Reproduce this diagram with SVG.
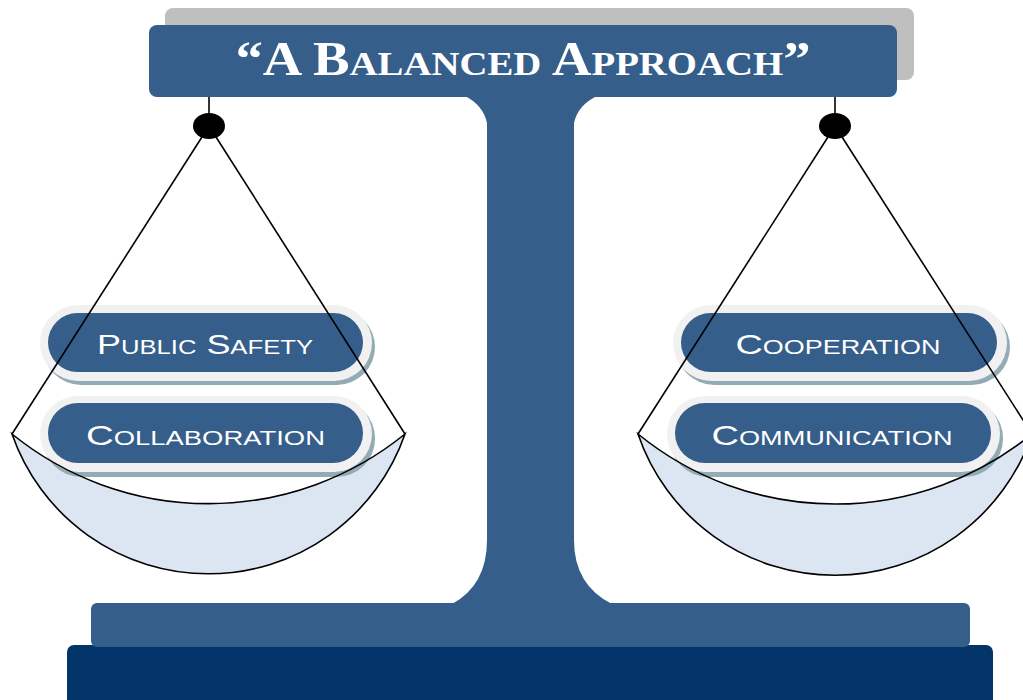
<svg xmlns="http://www.w3.org/2000/svg" width="1023" height="700" viewBox="0 0 1023 700">
  <style>
    .frame { fill: #355e8a; }
    .pan { fill: #dce6f2; stroke: none; }
    .rim { fill: none; stroke: #000; stroke-width: 1.6; }
    .cord { stroke: #000; stroke-width: 1.6; fill: none; }
    .knob { fill: #000; }
    .pill-shadow { fill: #93abb5; }
    .pill-ring { fill: #f1f1f1; }
    .pill-face { fill: #355e8a; }
    .pill-text { fill: #fff; font-family: "Liberation Sans", "DejaVu Sans", sans-serif; font-size: 28px; font-variant: small-caps; text-anchor: middle; }
    .title-text { fill: #fff; font-family: "Liberation Serif", "DejaVu Serif", serif; font-size: 48px; font-weight: bold; font-variant: small-caps; text-anchor: middle; }
  </style>

  <rect width="1023" height="700" fill="#fff"/>

  <!-- base plinth -->
  <g id="base">
    <rect x="67" y="645" width="926" height="70" rx="7" fill="#03356a"/>
    <rect x="91" y="603" width="879" height="44" rx="6" class="frame"/>
  </g>

  <!-- central column -->
  <g id="column">
    <path class="frame" d="M465,96 Q483,105 487,123 L487,540 Q487,585 452,604 L612,604 Q574,585 574,540 L574,123 Q578,105 597,96 Z"/>
  </g>

  <!-- title beam -->
  <g id="title">
    <rect x="165" y="8" width="749" height="72" rx="8" fill="#bfbfbf"/>
    <rect x="149" y="25" width="748" height="72" rx="8" class="frame"/>
    <text class="title-text" x="523" y="75" textLength="575" lengthAdjust="spacingAndGlyphs">“A Balanced Approach”</text>
  </g>

  <!-- left pan -->
  <g id="pan-left">
    <path class="pan" d="M12,434 A208,208 0 0 0 405,434 A312,312 0 0 1 12,434 Z"/>
  </g>

  <!-- right pan -->
  <g id="pan-right">
    <path class="pan" d="M638,434 A208,208 0 0 0 1032,434 A312,312 0 0 1 638,434 Z"/>
  </g>

  <!-- labels -->
  <g id="public-safety">
    <rect class="pill-shadow" x="43" y="309" width="332" height="76" rx="38"/>
    <rect class="pill-ring" x="40" y="305" width="332" height="76" rx="38"/>
    <rect class="pill-face" x="48" y="313" width="315" height="59" rx="29.5"/>
    <text class="pill-text" x="205" y="354" textLength="216" lengthAdjust="spacingAndGlyphs">Public Safety</text>
  </g>

  <g id="collaboration">
    <rect class="pill-shadow" x="43" y="400" width="332" height="77" rx="38"/>
    <rect class="pill-ring" x="40" y="396" width="332" height="76" rx="38"/>
    <rect class="pill-face" x="48" y="403" width="315" height="60" rx="30"/>
    <text class="pill-text" x="205.5" y="445" textLength="239" lengthAdjust="spacingAndGlyphs">Collaboration</text>
  </g>

  <g id="cooperation">
    <rect class="pill-shadow" x="676" y="309" width="334" height="76" rx="38"/>
    <rect class="pill-ring" x="673" y="305" width="334" height="76" rx="38"/>
    <rect class="pill-face" x="681" y="313" width="316" height="59" rx="29.5"/>
    <text class="pill-text" x="838" y="354" textLength="205" lengthAdjust="spacingAndGlyphs">Cooperation</text>
  </g>

  <g id="communication">
    <rect class="pill-shadow" x="670" y="400" width="333" height="77" rx="38"/>
    <rect class="pill-ring" x="667" y="396" width="333" height="76" rx="38"/>
    <rect class="pill-face" x="675" y="403" width="316" height="60" rx="30"/>
    <text class="pill-text" x="832" y="445" textLength="241" lengthAdjust="spacingAndGlyphs">Communication</text>
  </g>

  <!-- suspension cords and pan rims -->
  <g id="connectors">
    <line class="cord" x1="209" y1="97" x2="209" y2="116"/>
    <line class="cord" x1="209" y1="126" x2="12" y2="434"/>
    <line class="cord" x1="209" y1="126" x2="405" y2="434"/>
    <path class="rim" d="M12,434 A208,208 0 0 0 405,434 A312,312 0 0 1 12,434 Z"/>
    <ellipse class="knob" cx="209" cy="126" rx="16" ry="13"/>

    <line class="cord" x1="835" y1="97" x2="835" y2="116"/>
    <line class="cord" x1="835" y1="126" x2="638" y2="434"/>
    <line class="cord" x1="835" y1="126" x2="1032" y2="434"/>
    <path class="rim" d="M638,434 A208,208 0 0 0 1032,434 A312,312 0 0 1 638,434 Z"/>
    <ellipse class="knob" cx="835" cy="126" rx="16" ry="13"/>
  </g>
</svg>
